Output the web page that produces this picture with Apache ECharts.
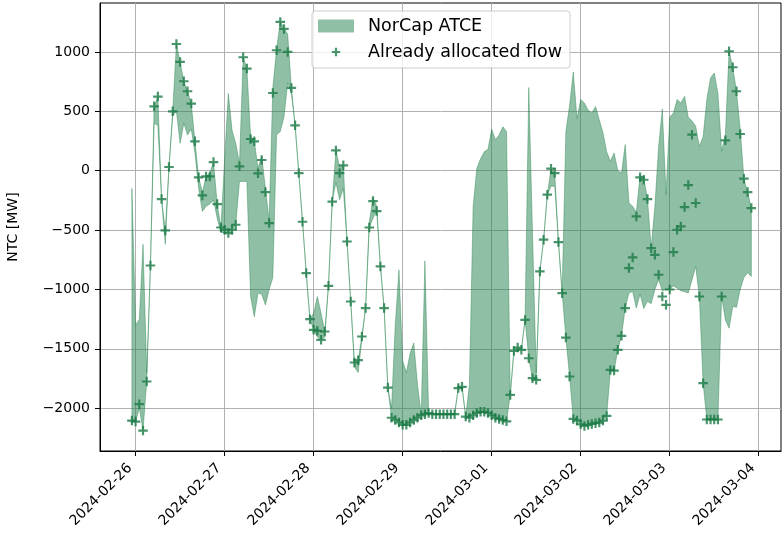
<!DOCTYPE html>
<html>
<head>
<meta charset="utf-8">
<script src="https://cdn.jsdelivr.net/npm/echarts@6/dist/echarts.min.js"></script>
<style>
  html, body { margin: 0; padding: 0; background: #fff; }
  #chart { width: 782px; height: 547px; }
</style>
</head>
<body>
<div id="chart"></div>
<script>
// Hourly data, first point at 2024-02-25 23:00 (hour -1 relative to 2024-02-26 00:00)
const START_HOUR = -1;

const tickLabels = ['2024-02-26', '2024-02-27', '2024-02-28', '2024-02-29',
                    '2024-03-01', '2024-03-02', '2024-03-03', '2024-03-04'];
const yTicks = [-2000, -1500, -1000, -500, 0, 500, 1000];

// Already allocated flow (MW)
const allocatedFlow = [
  -2104, -2112, -1966, -2188, -1775, -798, 542, 624, -239, -503,
  31, 500, 1067, 916, 753, 669, 565, 247, -56, -208,
  -48, -48, 73, -281, -478, -497, -525, -497, -455, 37,
  955, 860, 267, 247, -22, 90, -180, -441, 654, 1014,
  1253, 1194, 1000, 697, 382, -20, -430, -862, -1250, -1340,
  -1348, -1424, -1354, -969, -261, 171, -20, 45, -596, -1101,
  -1615, -1595, -1396, -1157, -478, -256, -340, -806, -1157, -1826,
  -2080, -2100, -2120, -2140, -2140, -2120, -2100, -2080, -2060, -2050,
  -2040, -2050, -2050, -2050, -2050, -2050, -2050, -2050, -1830, -1820,
  -2070, -2080, -2060, -2040, -2030, -2030, -2040, -2060, -2080, -2090,
  -2100, -2110, -1888, -1517, -1489, -1508, -1256, -1579, -1747, -1761,
  -848, -581, -202, 17, -20, -601, -1031, -1405, -1733, -2090,
  -2104, -2135, -2149, -2140, -2132, -2126, -2121, -2104, -2065, -1677,
  -1683, -1508, -1390, -1157, -820, -730, -385, -56, -76, -239,
  -652, -708, -876, -1059, -1129, -1000, -685, -497, -469, -306,
  -121, 303, -272, -1059, -1789, -2095, -2095, -2095, -2095, -1059,
  256, 1006, 871, 669, 309, -67, -180, -315
];

// NorCap ATCE band: upper edge (MW)
const atceUpper = [
  -150, -1300, -1250, -620, -1700, -798, 542, 624, -239, -503,
  31, 500, 1067, 916, 753, 669, 565, 247, -56, -180,
  -48, -20, 73, -281, -478, 100, 650, 340, 230, 60,
  955, 860, 290, 250, 20, 120, -150, -420, 700, 1020,
  1253, 1200, 1150, 697, 382, -20, -430, -862, -1250, -1200,
  -1060, -1200, -1354, -969, -261, 171, 30, 45, -596, -1101,
  -1615, -1595, -1396, -1157, -430, -230, -300, -806, -1157, -1826,
  -2000, -1300, -834, -1600, -1700, -1540, -1450, -1800, -2060, -760,
  -2040, -2050, -2050, -2050, -2050, -2050, -2050, -2050, -1830, -1820,
  -2070, -1800, -300, 20, 100, 160, 180, 350, 260, 300,
  370, 330, -1888, -1517, -1489, -1508, -1256, 700, -520, -1700,
  -848, -581, -202, 17, -20, -601, -1031, 330, 550, 830,
  440, 600, 570, 510, 486, 540, 430, 320, 160, 80,
  150, 0, -20, 220, -270, -300, -350, -40, -60, -239,
  -650, -300, 200, 520, -200, 450, 486, 600, 570, 626,
  450, 420, 374, 205, 289, 598, 781, 823, 650, 163,
  300, 1006, 870, 669, 350, -67, -180, -315
];

// NorCap ATCE band: lower edge (MW)
const atceLower = [
  -2104, -2112, -2000, -2188, -1775, -798, 400, 380, -239, -620,
  31, 460, 500, 230, 400, 300, 350, 150, -150, -343,
  -300, -280, -250, -400, -520, -520, -525, -500, -455, -90,
  -90, -90, -1060, -1230, -1030, -1040, -1130, -1000, -900, 300,
  330, 450, 740, 650, 382, -20, -430, -862, -1250, -1340,
  -1400, -1424, -1400, -969, -261, -100, -244, -150, -596, -1101,
  -1650, -1700, -1420, -1157, -478, -400, -340, -806, -1157, -1826,
  -2080, -2100, -2120, -2140, -2140, -2120, -2100, -2080, -2060, -2050,
  -2040, -2050, -2050, -2050, -2050, -2050, -2050, -2050, -1830, -1820,
  -2070, -2080, -2060, -2040, -2030, -2030, -2040, -2060, -2080, -2090,
  -2100, -2110, -1888, -1517, -1489, -1508, -1256, -1579, -1750, -1761,
  -848, -581, -202, -130, -130, -601, -1031, -1405, -1733, -2090,
  -2104, -2135, -2149, -2140, -2132, -2126, -2121, -2104, -2065, -1683,
  -1683, -1508, -1390, -1157, -1030, -1017, -1157, -1040, -1160, -1100,
  -1120, -1000, -918, -1010, -1000, -1000, -970, -990, -1010, -1020,
  -1030, -920, -806, -1067, -1789, -2095, -2095, -2095, -2095, -1059,
  -1256, -1326, -1143, -1150, -1000, -900, -860, -890
];

const FILL = 'rgba(31,127,73,0.5)';
const MARK = '#1b7a46';
const FONT = 'DejaVu Sans';
const LABEL_SHIFT = 1.55; // hours: rotated label end sits slightly left of its tick

const hours = allocatedFlow.map((_, i) => START_HOUR + i);
const tickHours = tickLabels.map((_, i) => i * 24);

const plusPath = 'path://M3.85,0H6.15V3.85H10V6.15H6.15V10H3.85V6.15H0V3.85H3.85Z';
const legendPlus = 'path://M0,0L0.01,0L0,0.01Z M36,13L35.99,13L36,12.99Z ' +
  'M16.9,2.3H19.1V5.4H22.2V7.6H19.1V10.7H16.9V7.6H13.8V5.4H16.9Z';

function fmtY(v) {
  return v < 0 ? '\u2212' + Math.abs(v) : String(v);
}

// Band polygon drawn through the axes' own coordinate conversion
function renderBand(params, api) {
  if (params.dataIndex !== 0) return null;
  const pts = [];
  for (let i = 0; i < hours.length; i++) pts.push(api.coord([hours[i], atceUpper[i]]));
  for (let i = hours.length - 1; i >= 0; i--) pts.push(api.coord([hours[i], atceLower[i]]));
  return {
    type: 'polygon',
    shape: { points: pts },
    style: { fill: FILL, stroke: FILL, lineWidth: 0.8, lineJoin: 'round' }
  };
}

const chart = echarts.init(document.getElementById('chart'), null, { renderer: 'canvas' });

chart.setOption({
  animation: false,
  backgroundColor: '#fff',
  textStyle: { fontFamily: FONT },
  grid: {
    left: 100, right: 1, top: 3, bottom: 96,
    containLabel: false,
    outerBoundsMode: 'none',
    show: true, borderColor: '#000', borderWidth: 1,
    backgroundColor: 'transparent'
  },
  legend: {
    left: 312, top: 11,
    orient: 'vertical',
    itemWidth: 36, itemHeight: 13, itemGap: 6,
    padding: [5, 8, 6, 6],
    backgroundColor: 'rgba(255,255,255,0.8)',
    borderColor: '#cccccc', borderWidth: 1, borderRadius: 3,
    textStyle: { fontFamily: FONT, fontSize: 17.5, color: '#000', lineHeight: 20, padding: [0, 0, 0, 9] },
    data: [
      { name: 'NorCap ATCE', icon: 'rect', itemStyle: { color: FILL } },
      { name: 'Already allocated flow', icon: legendPlus }
    ]
  },
  xAxis: {
    type: 'value',
    min: -9.6, max: 174,
    axisLine: { show: true, onZero: false, lineStyle: { color: '#000', width: 1 } },
    axisTick: { show: true, length: 5, customValues: tickHours, lineStyle: { color: '#000', width: 1 } },
    axisLabel: {
      customValues: tickHours.map(h => h - LABEL_SHIFT),
      formatter: v => tickLabels[Math.round((v + LABEL_SHIFT) / 24)],
      rotate: 45, margin: 15,
      fontFamily: FONT, fontSize: 14, color: '#000'
    },
    splitLine: { show: true, lineStyle: { color: '#b0b0b0', width: 1 } }
  },
  yAxis: {
    type: 'value',
    min: -2360, max: 1412,
    name: 'NTC [MW]',
    nameLocation: 'middle',
    nameGap: 80,
    nameTextStyle: { fontFamily: FONT, fontSize: 14, color: '#000' },
    axisLine: { show: true, onZero: false, lineStyle: { color: '#000', width: 1 } },
    axisTick: { show: true, length: 5, customValues: yTicks, lineStyle: { color: '#000', width: 1 } },
    axisLabel: {
      customValues: yTicks,
      formatter: fmtY,
      margin: 10,
      fontFamily: FONT, fontSize: 14, color: '#000'
    },
    splitLine: { show: true, lineStyle: { color: '#b0b0b0', width: 1 } }
  },
  series: [
    {
      name: 'NorCap ATCE',
      type: 'custom',
      renderItem: renderBand,
      silent: true,
      clip: true,
      itemStyle: { color: FILL },
      encode: { x: 0, y: [1, 2] },
      data: hours.map((h, i) => [h, atceLower[i], atceUpper[i]]),
      z: 2
    },
    {
      name: 'Already allocated flow',
      type: 'scatter',
      symbol: plusPath,
      symbolSize: 9.5,
      itemStyle: { color: MARK },
      data: hours.map((h, i) => [h, allocatedFlow[i]]),
      z: 3
    }
  ]
});
</script>
</body>
</html>
